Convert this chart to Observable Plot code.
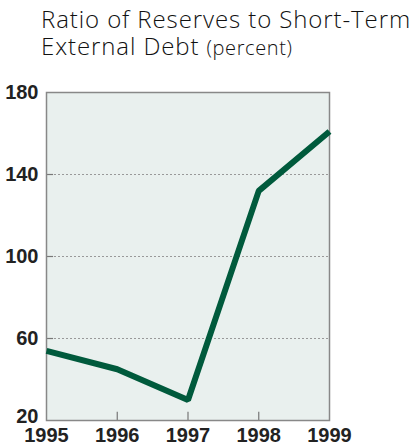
<!DOCTYPE html>
<html><head><meta charset="utf-8">
<script src="https://cdn.jsdelivr.net/npm/d3@7"></script>
<script src="https://cdn.jsdelivr.net/npm/@observablehq/plot@0.6"></script>
<style>
body{margin:0;background:#fff;}
.title{position:absolute;left:41px;font-family:"Open Sans",sans-serif;font-weight:300;color:#111;font-size:24px;line-height:26px;height:26px;letter-spacing:0.9px;white-space:nowrap;}
.title small{font-size:20px;letter-spacing:0.6px;}
#chart{position:absolute;left:0;top:72px;}
</style></head><body>
<div class="title" style="top:6px">Ratio of Reserves to Short-Term</div>
<div class="title" style="top:33px">External Debt <small>(percent)</small></div>
<div id="chart"></div>
<script>
const years = [1995, 1996, 1997, 1998, 1999];
const ratio = [54, 45, 30, 132, 161];
const yTicksCentered = [60, 100, 140, 180];
const yTickBottom = [20];
const gridLines = [60, 100, 140];
const innerXTicks = [1996, 1997, 1998];
const data = years.map((y, i) => ({year: y, value: ratio[i]}));

const font = {fontSize: 20, fontWeight: "bold"};
const chart = Plot.plot({
  width: 412, height: 376,
  marginLeft: 46, marginRight: 83, marginTop: 20, marginBottom: 28,
  style: {fontFamily: "'Liberation Sans Narrow', 'Liberation Sans', sans-serif", fontWeight: "bold", fontSize: "20px", color: "#222"},
  x: {domain: [1995, 1999], label: null},
  y: {domain: [20, 180], label: null},
  marks: [
    Plot.frame({fill: "#e9f0ee", stroke: "none"}),
    Plot.ruleY(gridLines, {stroke: "#999", strokeDasharray: "2,2", strokeWidth: 1}),
    Plot.ruleY(gridLines, {x1: 1995, x2: 1995.1, stroke: "#777", strokeWidth: 1.2}),
    Plot.ruleX(innerXTicks, {y1: 20, y2: 24, stroke: "#777", strokeWidth: 1.2}),
    Plot.frame({stroke: "#888", strokeWidth: 1.5}),
    Plot.line(data, {x: "year", y: "value", stroke: "#005a3c", strokeWidth: 6, strokeLinejoin: "miter", strokeLinecap: "butt"}),
    Plot.axisX({ticks: years, tickFormat: d => String(d), tickSize: 0, tickPadding: 7, ...font}),
    Plot.axisY({ticks: yTicksCentered, tickSize: 0, tickPadding: 8, ...font}),
    Plot.axisY({ticks: yTickBottom, tickSize: 0, tickPadding: 8, lineAnchor: "bottom", dy: 2, ...font})
  ]
});
document.getElementById("chart").appendChild(chart);
</script>
</body></html>
